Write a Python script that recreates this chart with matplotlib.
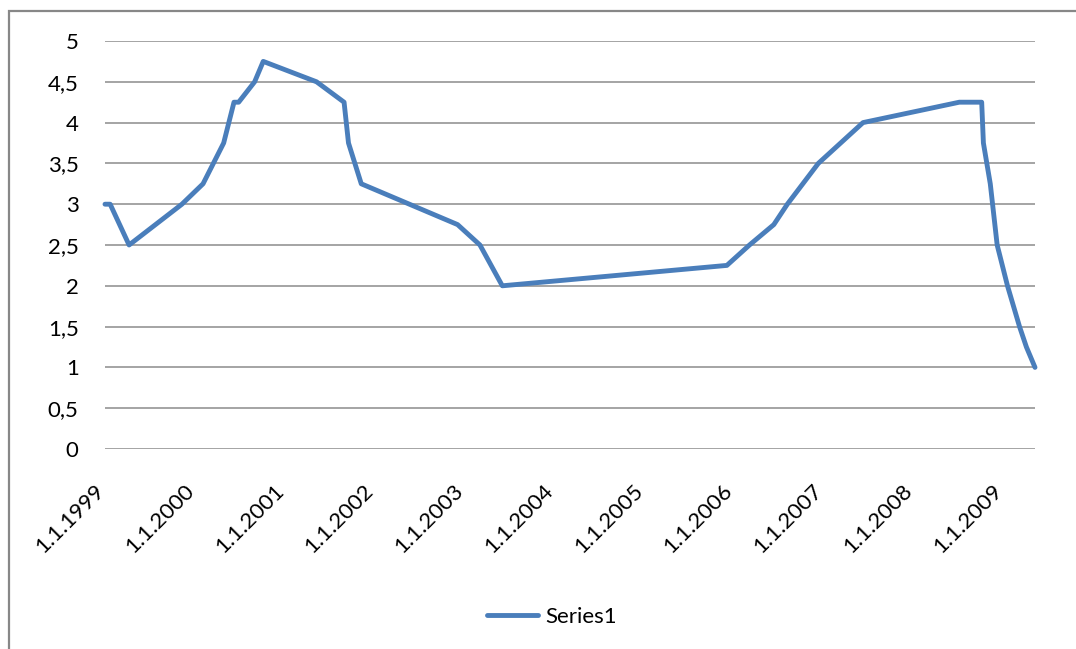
import matplotlib
matplotlib.use('Agg')
import matplotlib.pyplot as plt
import matplotlib.transforms as mtransforms
from matplotlib.patches import Rectangle
from matplotlib.ticker import FuncFormatter
import pandas as pd

# ECB main refinancing rate (Series1)
fechas = ['1999-01-01', '1999-01-04', '1999-01-22', '1999-04-09', '1999-11-10',
          '2000-02-04', '2000-03-17', '2000-04-28', '2000-06-09', '2000-06-28',
          '2000-09-01', '2000-10-06', '2001-05-11', '2001-08-31', '2001-09-18',
          '2001-11-09', '2002-12-06', '2003-03-07', '2003-06-06', '2005-12-06',
          '2006-03-08', '2006-06-15', '2006-08-09', '2006-10-11', '2006-12-13',
          '2007-03-14', '2007-06-13', '2008-07-09', '2008-10-08', '2008-10-15',
          '2008-11-12', '2008-12-10', '2009-01-21', '2009-03-11', '2009-04-08',
          '2009-05-13']
tasas = [3.0, 3.0, 3.0, 2.5, 3.0,
         3.25, 3.5, 3.75, 4.25, 4.25,
         4.5, 4.75, 4.5, 4.25, 3.75,
         3.25, 2.75, 2.5, 2.0, 2.25,
         2.5, 2.75, 3.0, 3.25, 3.5,
         3.75, 4.0, 4.25, 4.25, 3.75,
         3.25, 2.5, 2.0, 1.5, 1.25,
         1.0]
anios = list(range(1999, 2010))
etiquetas_x = [f'1.1.{a}' for a in anios]
valores_y = [0, 0.5, 1, 1.5, 2, 2.5, 3, 3.5, 4, 4.5, 5]

plt.rcParams['font.family'] = ['Lato', 'DejaVu Sans']

fechas = pd.to_datetime(fechas)
ticks_x = pd.to_datetime([f'{a}-01-01' for a in anios])

fig = plt.figure(figsize=(10.76, 6.49), dpi=100)
ax = fig.add_axes([105 / 1076, 1 - 449 / 649, 930 / 1076, 408 / 649])

ax.plot(fechas, tasas, color='#4A7EBB', linewidth=3.5, solid_joinstyle='round',
        solid_capstyle='round', label='Series1', zorder=3, clip_on=False)

ax.set_xlim(fechas[0], fechas[-1])
ax.set_ylim(0, 5)
ax.set_yticks(valores_y)
ax.yaxis.set_major_formatter(FuncFormatter(lambda v, p: f'{v:g}'.replace('.', ',')))
ax.grid(axis='y', color='#8C8C8C', linewidth=1.1)
ax.set_axisbelow(True)
for s in ax.spines.values():
    s.set_visible(False)

ax.set_xticks(ticks_x)
ax.set_xticklabels(etiquetas_x, rotation=45, ha='right', va='center', rotation_mode='anchor')
ax.tick_params(axis='x', length=0, pad=28, labelsize=16, colors='black')
ax.tick_params(axis='y', length=0, pad=19, labelsize=16, colors='black')
desplaz = mtransforms.ScaledTranslation(-4 / 100, 0, fig.dpi_scale_trans)
for lbl in ax.get_xticklabels():
    lbl.set_transform(lbl.get_transform() + desplaz)

# marco del grafico
fig.patches.append(Rectangle((9 / 1076, -0.05), 1.2, 1 - 11 / 649 + 0.05,
                             transform=fig.transFigure, fill=False,
                             edgecolor='#878787', linewidth=1.6))

fig.legend(loc='center', bbox_to_anchor=(552 / 1076, 1 - 617 / 649), frameon=False,
           fontsize=16, handlelength=2.3, handletextpad=0.35)

plt.savefig('out.png', dpi=100)
plt.close('all')
